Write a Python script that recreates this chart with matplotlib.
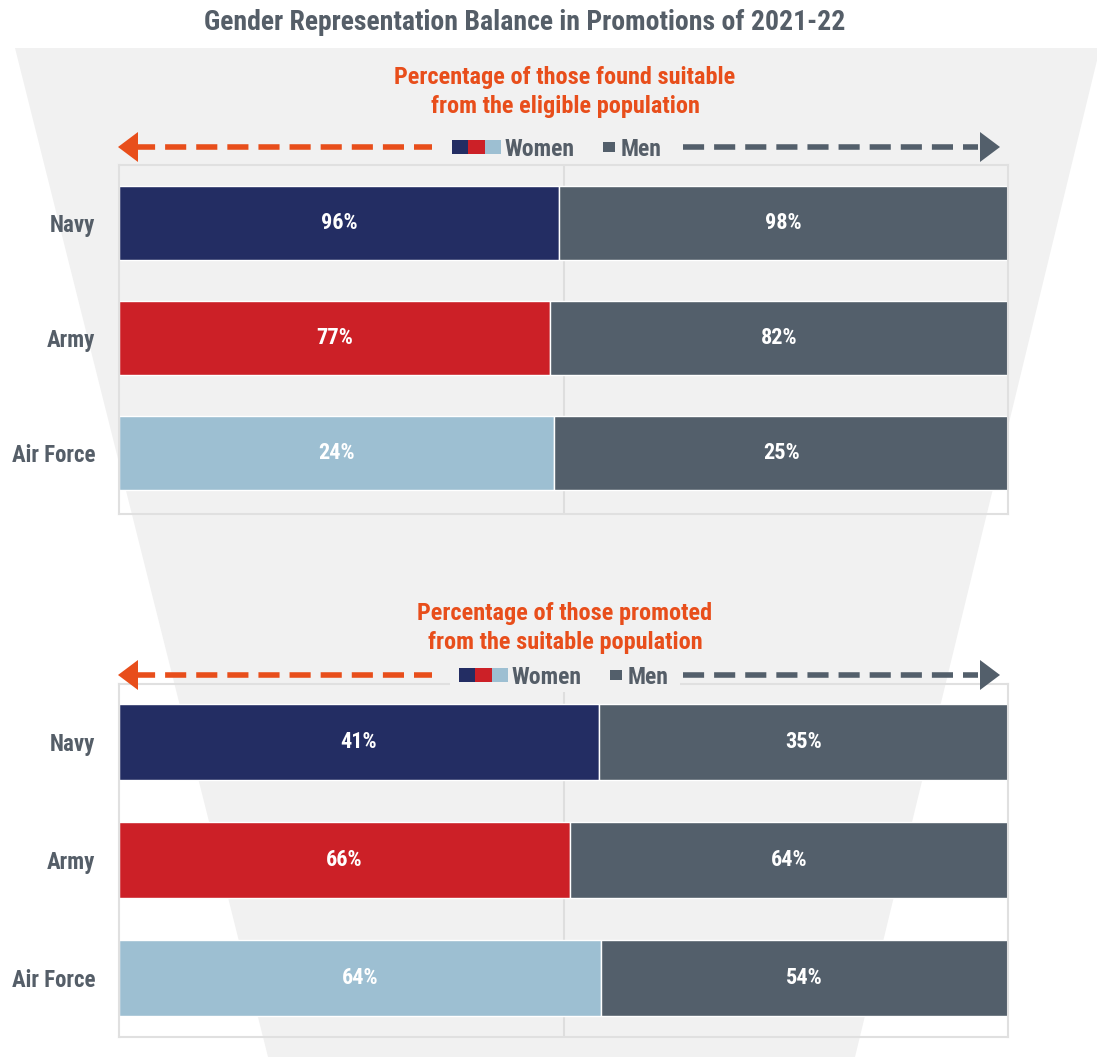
import numpy as np
import matplotlib
matplotlib.use("Agg")
import matplotlib.pyplot as plt
from matplotlib.patches import Polygon, Rectangle
from matplotlib.lines import Line2D

W, H = 1097, 1057
FONT = ["Roboto Condensed", "Liberation Sans Narrow", "Roboto", "DejaVu Sans"]
plt.rcParams["font.family"] = FONT

NAVY, RED, LBLUE, GREY = "#232d63", "#cc2027", "#9dbfd2", "#535f6b"
ORANGE = "#e84e1b"
TXT = "#555e68"
FUNNEL = "#f1f1f1"

services = ["Navy", "Army", "Air Force"]
women_colors = [NAVY, RED, LBLUE]
suitable_women = [96, 77, 24]
suitable_men = [98, 82, 25]
promoted_women = [41, 66, 64]
promoted_men = [35, 64, 54]


def fx(x):
    return x / W


def fy(y):
    return 1 - y / H


fig = plt.figure(figsize=(W / 100, H / 100), dpi=100)
fig.patch.set_facecolor("white")

# funnel backdrop
fig.add_artist(Polygon([(fx(15), fy(48)), (fx(1100), fy(48)), (fx(855), fy(1057)), (fx(268), fy(1057))],
                       closed=True, transform=fig.transFigure, facecolor=FUNNEL, edgecolor="none", zorder=0))

fig.text(fx(525), fy(23), "Gender Representation Balance in Promotions of 2021-22",
         ha="center", va="center", fontsize=20, fontweight="bold", color=TXT)


def legend_row(y, x_sw, x_men, x_dash_end, x_dash_start):
    # left arrow (women)
    fig.add_artist(Line2D([fx(134), fx(x_dash_end)], [fy(y), fy(y)], transform=fig.transFigure,
                          color=ORANGE, lw=4, ls=(0, (3.8, 1.8)), solid_capstyle="butt"))
    fig.add_artist(Polygon([(fx(118), fy(y)), (fx(138), fy(y - 15)), (fx(138), fy(y + 15))],
                           closed=True, transform=fig.transFigure, facecolor=ORANGE, edgecolor="none"))
    # right arrow (men)
    fig.add_artist(Line2D([fx(x_dash_start), fx(978)], [fy(y), fy(y)], transform=fig.transFigure,
                          color=GREY, lw=4, ls=(0, (3.8, 1.8)), solid_capstyle="butt"))
    fig.add_artist(Polygon([(fx(1000), fy(y)), (fx(980), fy(y - 15)), (fx(980), fy(y + 15))],
                           closed=True, transform=fig.transFigure, facecolor=GREY, edgecolor="none"))
    # swatches
    for i, c in enumerate(women_colors):
        fig.add_artist(Rectangle((fx(x_sw + 16.3 * i), fy(y + 7)), 16.3 / W, 14 / H,
                                 transform=fig.transFigure, facecolor=c, edgecolor="none"))
    fig.text(fx(x_sw + 52), fy(y + 2), "Women", ha="left", va="center", fontsize=17,
             fontweight="bold", color=TXT)
    fig.add_artist(Rectangle((fx(x_men), fy(y + 5)), 12 / W, 10 / H,
                             transform=fig.transFigure, facecolor=GREY, edgecolor="none"))
    fig.text(fx(x_men + 18), fy(y + 2), "Men", ha="left", va="center", fontsize=17,
             fontweight="bold", color=TXT)


def panel(rect, ylim, height, women, men, subtitle, sub_y):
    ax = fig.add_axes(rect)
    ax.set_facecolor("none")
    w = np.array(women, dtype=float)
    m = np.array(men, dtype=float)
    share = w / (w + m)
    y = np.arange(len(services))
    ax.axvline(0.5, color="#dedede", lw=1.5, zorder=0)
    ax.barh(y, share, height=height, color=women_colors, edgecolor="white", lw=1, zorder=2)
    ax.barh(y, 1 - share, left=share, height=height, color=GREY, edgecolor="white", lw=1, zorder=2)
    for yi, s, wv, mv in zip(y, share, women, men):
        ax.text(s / 2, yi, f"{wv}%", ha="center", va="center", color="white",
                fontsize=16, fontweight="bold", zorder=3)
        ax.text(s + (1 - s) / 2, yi, f"{mv}%", ha="center", va="center", color="white",
                fontsize=16, fontweight="bold", zorder=3)
    ax.set_xlim(0, 1)
    ax.set_ylim(*ylim)
    ax.set_xticks([])
    ax.set_yticks(y)
    ax.set_yticklabels(services, fontsize=16.5, fontweight="bold", color=TXT)
    ax.tick_params(axis="y", length=0, pad=17)
    for sp in ax.spines.values():
        sp.set_color("#e0e0e0")
        sp.set_linewidth(1.5)
    fig.text(fx(565), fy(sub_y), subtitle, ha="center", va="center", fontsize=17.5,
             fontweight="bold", color=ORANGE, linespacing=1.3)
    return ax


panel([fx(119), fy(514), 889 / W, 349 / H], (2.53, -0.504), 0.65,
      suitable_women, suitable_men,
      "Percentage of those found suitable\nfrom the eligible population", 92)
legend_row(147, 452, 603, 432, 683)

panel([fx(119), fy(1037), 889 / W, 353 / H], (2.5, -0.49), 0.645,
      promoted_women, promoted_men,
      "Percentage of those promoted\nfrom the suitable population", 628)
# legend backing over the lower frame edge
fig.add_artist(Rectangle((fx(450), fy(692)), 230 / W, 30 / H, transform=fig.transFigure,
                         facecolor=FUNNEL, edgecolor="none", zorder=1))
legend_row(675, 459, 610, 432, 683)

fig.savefig("out.png", dpi=100)
